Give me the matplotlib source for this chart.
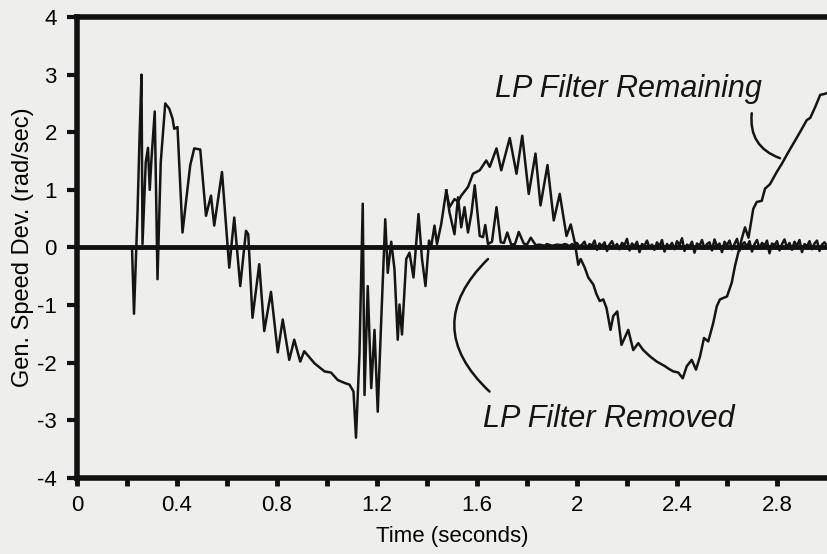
import matplotlib.pyplot as plt
import numpy as np

plt.rcParams['font.family'] = ['Liberation Sans', 'DejaVu Sans']
plt.rcParams['axes.unicode_minus'] = False

# part where both runs are the same (up to ~1.48 s)
t_common = [0.0, 0.22, 0.228, 0.242, 0.25, 0.258, 0.262, 0.275, 0.284, 0.291, 0.298,
            0.311, 0.322, 0.335, 0.353, 0.369, 0.382, 0.389, 0.402, 0.422, 0.442, 0.453,
            0.469, 0.493, 0.516, 0.536, 0.549, 0.58, 0.609, 0.629, 0.653, 0.676, 0.685,
            0.702, 0.729, 0.749, 0.776, 0.803, 0.823, 0.849, 0.869, 0.893, 0.909, 0.95,
            0.99, 1.016, 1.043, 1.07, 1.09, 1.106, 1.116, 1.13, 1.143, 1.15, 1.163, 1.177,
            1.19, 1.203, 1.217, 1.233, 1.243, 1.257, 1.27, 1.283, 1.29, 1.30, 1.317, 1.33,
            1.346, 1.366, 1.38, 1.394, 1.408, 1.417, 1.43, 1.44, 1.457, 1.477]
v_common = [0, 0, -1.15, 0.6, 1.88, 3.0, 0.06, 1.48, 1.73, 1.0, 1.54,
            2.36, -0.55, 1.48, 2.5, 2.41, 2.24, 2.06, 2.09, 0.26, 1.02, 1.43,
            1.72, 1.70, 0.55, 0.90, 0.38, 1.31, -0.35, 0.52, -0.67, 0.29, 0.23,
            -1.22, -0.29, -1.45, -0.77, -1.82, -1.25, -1.95, -1.60, -1.98, -1.80, -2.01,
            -2.15, -2.17, -2.30, -2.35, -2.38, -2.50, -3.3, -1.83, 0.76, -2.56, -0.67, -2.44,
            -1.43, -2.85, -1.25, 0.49, -0.44, 0.10, -0.38, -1.60, -0.99, -1.51, -0.20, -0.09,
            -0.52, 0.58, -0.20, -0.67, 0.12, 0.02, 0.38, 0.06, 0.41, 0.99]

# LP filter remaining
t_remain = [1.49, 1.51, 1.524, 1.537, 1.564, 1.584, 1.611, 1.637, 1.651, 1.678, 1.697,
            1.731, 1.758, 1.781, 1.807, 1.834, 1.854, 1.882, 1.907, 1.931, 1.958, 1.975,
            1.991, 2.005, 2.015, 2.031, 2.045, 2.065, 2.078, 2.091, 2.105, 2.118, 2.134,
            2.145, 2.161, 2.178, 2.205, 2.225, 2.245, 2.265, 2.292, 2.319, 2.352, 2.365,
            2.385, 2.405, 2.423, 2.439, 2.459, 2.476, 2.492, 2.508, 2.525, 2.545, 2.559,
            2.572, 2.60, 2.619, 2.632, 2.645, 2.659, 2.672, 2.686, 2.705, 2.719, 2.739,
            2.752, 2.772, 2.799, 2.819, 2.846, 2.873, 2.893, 2.919, 2.933, 2.953, 2.973,
            2.986, 3.0]
v_remain = [0.70, 0.84, 0.80, 0.90, 1.05, 1.28, 1.34, 1.51, 1.40, 1.72, 1.34,
            1.90, 1.28, 1.94, 0.93, 1.63, 0.73, 1.43, 0.47, 0.93, 0.20, 0.40,
            0.09, -0.30, -0.20, -0.35, -0.52, -0.64, -0.81, -0.93, -0.90, -1.05, -1.43,
            -1.19, -1.11, -1.69, -1.43, -1.78, -1.66, -1.78, -1.89, -1.98, -2.06, -2.10,
            -2.15, -2.17, -2.27, -2.06, -1.95, -2.12, -1.89, -1.57, -1.63, -1.31, -1.02,
            -0.90, -0.85, -0.61, -0.32, -0.09, 0.15, 0.35, 0.17, 0.67, 0.79, 0.81,
            1.02, 1.10, 1.31, 1.45, 1.66, 1.86, 2.01, 2.21, 2.25, 2.44, 2.65,
            2.66, 2.68]

# LP filter removed
t_removed = [1.49, 1.51, 1.524, 1.537, 1.55, 1.564, 1.578, 1.591, 1.611, 1.624, 1.633,
             1.644, 1.66, 1.678, 1.695, 1.708, 1.721, 1.737, 1.752, 1.767, 1.787, 1.80,
             1.815, 1.835, 1.85, 1.87, 1.88, 1.90, 1.92, 1.94, 1.95]
v_removed = [0.61, 0.23, 0.87, 0.35, 0.70, 0.26, 0.60, 1.08, 0.20, 0.18, 0.39,
             0.06, 0.10, 0.70, 0.09, 0.08, 0.26, 0.05, 0.06, 0.27, 0.07, 0.05,
             0.17, 0.04, 0.05, 0.03, 0.06, 0.03, 0.05, 0.04, 0.06]
# small ripple on the removed trace, 1.96 .. 3.0 s
ripple = [0.05, 0.02, 0.06, 0.03, 0.08, 0.01, 0.05, 0.10, -0.02, 0.06, 0.03, 0.12, -0.04,
          0.07, 0.02, 0.09, -0.06, 0.05, 0.11, 0.00, 0.06, -0.03, 0.08, 0.04, 0.15, -0.05,
          0.07, 0.02, 0.10, -0.08, 0.06, 0.03, 0.12, 0.00, 0.05, -0.04, 0.09, 0.02, 0.13,
          -0.07, 0.06, 0.01, 0.08, -0.03, 0.11, 0.04, 0.16, -0.06, 0.05, 0.02, 0.10, -0.09,
          0.07, 0.03, 0.13, -0.02, 0.06, 0.09, -0.05, 0.14, 0.02, 0.07, -0.08, 0.10, 0.04,
          0.12, -0.03, 0.06, 0.15, -0.06, 0.05, 0.09, 0.01, 0.11, -0.07, 0.06, 0.13, -0.02,
          0.08, 0.03, 0.12, -0.10, 0.07, 0.04, 0.11, -0.05, 0.06, 0.14, 0.00, 0.08, -0.04,
          0.10, 0.03, 0.13, -0.08, 0.06, 0.02, 0.11, -0.03, 0.07, 0.12, -0.06, 0.05, 0.09,
          0.03]
t_ripple = np.linspace(1.96, 3.0, len(ripple))

bg = '#eeeeec'
ink = '#151515'
fig = plt.figure(figsize=(8.27, 5.54), dpi=100, facecolor=bg)
ax = fig.add_axes([0.0931, 0.1372, 0.9069, 0.8321], facecolor=bg)

lw = 1.8
ax.plot(t_common, v_common, color=ink, lw=lw)
ax.plot([t_common[-1]] + t_remain, [v_common[-1]] + v_remain, color=ink, lw=lw)
ax.plot([t_common[-1]] + t_removed + list(t_ripple),
        [v_common[-1]] + v_removed + ripple, color=ink, lw=lw)
ax.axhline(0, color='#111111', lw=3.5, zorder=3)

ax.set_xlim(0, 3.0)
ax.set_ylim(-4, 4)
ax.set_xticks(np.arange(0, 2.81, 0.4))
ax.set_xticklabels(['0', '0.4', '0.8', '1.2', '1.6', '2', '2.4', '2.8'])
ax.set_xticks(np.arange(0.2, 3.0, 0.4), minor=True)
ax.set_yticks(range(-4, 5))

for side in ['left', 'top', 'bottom']:
    ax.spines[side].set_linewidth(4)
    ax.spines[side].set_color('#111111')
ax.spines['right'].set_visible(False)

ax.tick_params(axis='y', direction='out', length=7.5, width=3, labelsize=16,
               color='#111111', pad=7)
ax.tick_params(axis='x', which='both', direction='out', length=5.5, width=3.5,
               labelsize=16, color='#111111', pad=7)

ax.set_xlabel('Time (seconds)', fontsize=16, labelpad=7)
ax.set_ylabel('Gen. Speed Dev. (rad/sec)', fontsize=17, labelpad=2)

ax.text(1.671, 2.62, 'LP Filter Remaining', fontsize=22, style='italic',
        ha='left', va='baseline', color=ink)
ax.text(1.623, -3.12, 'LP Filter Removed', fontsize=22, style='italic',
        ha='left', va='baseline', color=ink)

ax.annotate('', xy=(2.812, 1.55), xytext=(2.699, 2.33),
            arrowprops=dict(arrowstyle='-', lw=1.8, color=ink,
                            connectionstyle='arc3,rad=0.39', shrinkA=0, shrinkB=0))
ax.annotate('', xy=(1.65, -2.5), xytext=(1.644, -0.20),
            arrowprops=dict(arrowstyle='-', lw=1.8, color=ink,
                            connectionstyle='arc3,rad=0.52', shrinkA=0, shrinkB=0))

plt.savefig('out.png', dpi=100, facecolor=bg)
